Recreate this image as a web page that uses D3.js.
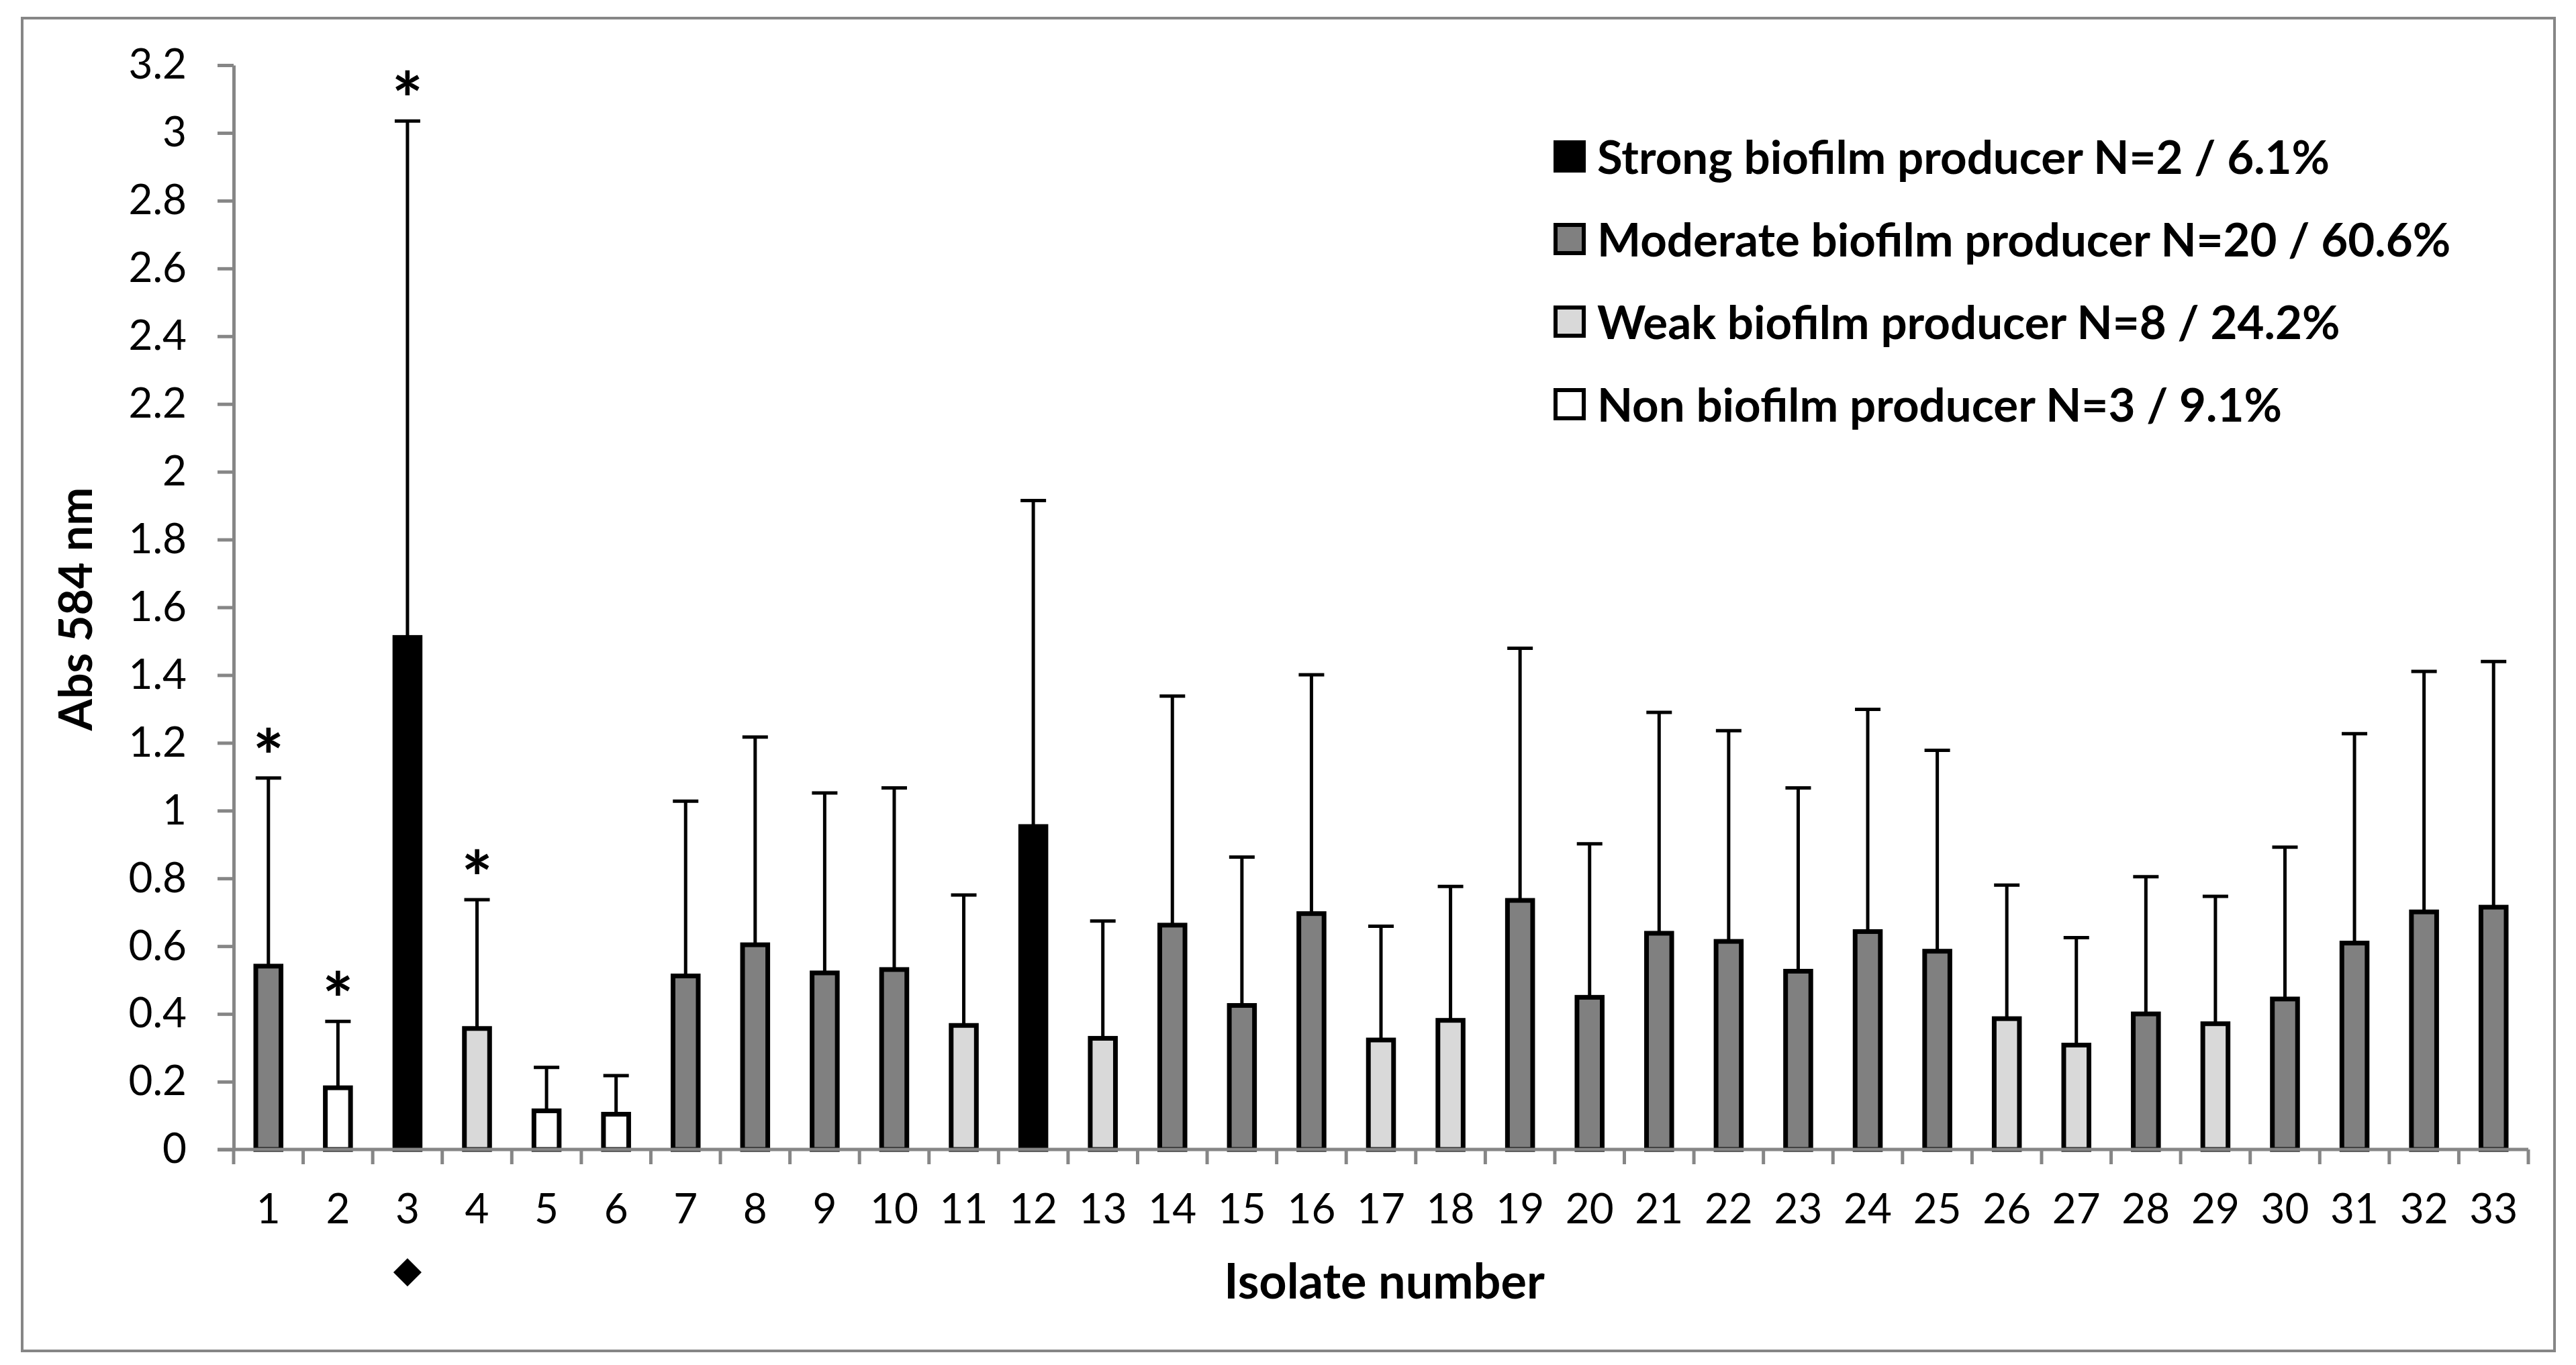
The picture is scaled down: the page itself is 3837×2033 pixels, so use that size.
<!DOCTYPE html>
<html>
<head>
<meta charset="utf-8">
<script src="https://cdn.jsdelivr.net/npm/d3@7"></script>
<style>
  body { margin: 0; background: #fff; }
  svg { display: block; }
  text { font-family: Lato, "Open Sans", sans-serif; }
</style>
</head>
<body>
<svg width="3837" height="2033"></svg>
<script>
    var isolates = ['1', '2', '3', '4', '5', '6', '7', '8', '9', '10', '11', '12', '13', '14', '15', '16', '17',
      '18', '19', '20', '21', '22', '23', '24', '25', '26', '27', '28', '29', '30', '31', '32', '33']

    // mean absorbance per isolate
    var means = [0.548, 0.189, 1.518, 0.364, 0.121, 0.111, 0.519, 0.611, 0.528, 0.538, 0.373, 0.960, 0.335,
      0.669, 0.432, 0.703, 0.330, 0.388, 0.742, 0.456, 0.645, 0.621, 0.533, 0.650, 0.592, 0.393, 0.315,
      0.407, 0.378, 0.451, 0.616, 0.708, 0.722]

    // standard deviation (upper error bar only)
    var sds = [0.548, 0.189, 1.517, 0.373, 0.121, 0.107, 0.509, 0.606, 0.524, 0.529, 0.378, 0.955, 0.339,
      0.669, 0.431, 0.698, 0.329, 0.388, 0.737, 0.446, 0.645, 0.615, 0.534, 0.649, 0.586, 0.387, 0.310,
      0.398, 0.369, 0.441, 0.611, 0.703, 0.718]

    // producer class per isolate
    var classes = ['moderate', 'non', 'strong', 'weak', 'non', 'non', 'moderate', 'moderate', 'moderate',
      'moderate', 'weak', 'strong', 'weak', 'moderate', 'moderate', 'moderate', 'weak', 'weak', 'moderate',
      'moderate', 'moderate', 'moderate', 'moderate', 'moderate', 'moderate', 'weak', 'weak', 'moderate',
      'weak', 'moderate', 'moderate', 'moderate', 'moderate']

    var starred = ['1', '2', '3', '4']
    var diamond = ['3']

    var yTicks = [0, 0.2, 0.4, 0.6, 0.8, 1, 1.2, 1.4, 1.6, 1.8, 2, 2.2, 2.4, 2.6, 2.8, 3, 3.2]

    var legendKeys = ['strong', 'moderate', 'weak', 'non']
    var legendLabels = ['Strong biofilm producer N=2 / 6.1%', 'Moderate biofilm producer N=20 / 60.6%',
      'Weak biofilm producer N=8 / 24.2%', 'Non biofilm producer N=3 / 9.1%']

    var fills = { strong: '#000000', moderate: '#808080', weak: '#d9d9d9', non: '#ffffff' }

    var data = isolates.map((d, i) => ({ id: d, mean: means[i], sd: sds[i], cls: classes[i] }))

    var width = 3837
    var height = 2033
    var margin = { top: 97, bottom: 321, left: 348, right: 71 }
    var axisGrey = '#868686'

    var svg = d3.select('svg')

    // outer chart frame
    svg.append('rect')
      .attr('x', 33).attr('y', 27)
      .attr('width', 3772).attr('height', 1985)
      .attr('fill', '#fff')
      .attr('stroke', axisGrey)
      .attr('stroke-width', 4)

    var xScale = d3.scaleBand()
      .domain(isolates)
      .range([margin.left, width - margin.right])

    var yScale = d3.scaleLinear()
      .domain([0, 3.2])
      .range([height - margin.bottom, margin.top])

    var barW = xScale.bandwidth() * 0.43
    var stroke = 7

    // bars
    svg.selectAll('rect.bar')
      .data(data)
      .enter().append('rect')
      .attr('class', 'bar')
      .attr('x', d => xScale(d.id) + (xScale.bandwidth() - barW) / 2 + stroke / 2)
      .attr('y', d => yScale(d.mean) + stroke / 2)
      .attr('width', barW - stroke)
      .attr('height', d => yScale(0) - yScale(d.mean) - stroke / 2)
      .attr('fill', d => fills[d.cls])
      .attr('stroke', '#000')
      .attr('stroke-width', stroke)

    // error bars (upper only)
    var cx = d => xScale(d.id) + xScale.bandwidth() / 2
    var err = svg.append('g').attr('stroke', '#000').attr('stroke-width', 5)
    err.selectAll('line.v')
      .data(data)
      .enter().append('line')
      .attr('x1', cx).attr('x2', cx)
      .attr('y1', d => yScale(d.mean) + stroke / 2)
      .attr('y2', d => yScale(d.mean + d.sd))
    err.selectAll('line.cap')
      .data(data)
      .enter().append('line')
      .attr('x1', d => cx(d) - 19).attr('x2', d => cx(d) + 19)
      .attr('y1', d => yScale(d.mean + d.sd))
      .attr('y2', d => yScale(d.mean + d.sd))

    // asterisks
    svg.selectAll('text.star')
      .data(data.filter(d => starred.includes(d.id)))
      .enter().append('text')
      .attr('x', cx)
      .attr('y', d => yScale(d.mean + d.sd) + 8)
      .attr('text-anchor', 'middle')
      .attr('font-family', 'DejaVu Sans')
      .attr('font-weight', 'bold')
      .attr('font-size', 110)
      .text('*')

    // y axis
    var yAxis = d3.axisLeft(yScale)
      .tickValues(yTicks)
      .tickFormat(d => String(+d.toFixed(1)))
      .tickSize(24)
      .tickSizeOuter(0)
      .tickPadding(46)
    var gy = svg.append('g')
      .attr('transform', 'translate(' + [margin.left, 0] + ')')
      .call(yAxis)
    gy.selectAll('path, line').attr('stroke', axisGrey).attr('stroke-width', 5)
    gy.selectAll('text').attr('font-size', 62).attr('fill', '#000').attr('font-family', 'Lato')

    // x axis: line + ticks at category boundaries
    var gx = svg.append('g')
    var base = yScale(0)
    gx.append('line')
      .attr('x1', margin.left - 24).attr('x2', width - margin.right)
      .attr('y1', base).attr('y2', base)
      .attr('stroke', axisGrey).attr('stroke-width', 5)
    gx.selectAll('line.tick')
      .data(isolates.concat(['end']))
      .enter().append('line')
      .attr('x1', d => d === 'end' ? width - margin.right : xScale(d))
      .attr('x2', d => d === 'end' ? width - margin.right : xScale(d))
      .attr('y1', base).attr('y2', base + 22)
      .attr('stroke', axisGrey).attr('stroke-width', 5)
    gx.selectAll('text')
      .data(isolates)
      .enter().append('text')
      .attr('x', d => xScale(d) + xScale.bandwidth() / 2)
      .attr('y', base + 110)
      .attr('text-anchor', 'middle')
      .attr('font-size', 62)
      .text(d => d)

    // diamond marker under isolate 3
    svg.selectAll('path.diamond')
      .data(diamond)
      .enter().append('path')
      .attr('d', 'M0,-21L21,0L0,21L-21,0Z')
      .attr('transform', d => 'translate(' + [xScale(d) + xScale.bandwidth() / 2, 1895] + ')')
      .attr('fill', '#000')

    // axis titles
    svg.append('text')
      .attr('transform', 'translate(137,907) rotate(-90)')
      .attr('text-anchor', 'middle')
      .attr('font-size', 68)
      .attr('font-weight', 'bold')
      .text('Abs 584 nm')

    svg.append('text')
      .attr('x', 2062).attr('y', 1934)
      .attr('text-anchor', 'middle')
      .attr('font-size', 72)
      .attr('font-weight', 'bold')
      .text('Isolate number')

    // legend
    var lg = svg.append('g')
    var rowY = [234, 357, 480, 603]
    legendKeys.forEach((k, i) => {
      lg.append('rect')
        .attr('x', 2317).attr('y', rowY[i] - 22)
        .attr('width', 42).attr('height', 42)
        .attr('fill', fills[k])
        .attr('stroke', '#000')
        .attr('stroke-width', 6)
      lg.append('text')
        .attr('x', 2379).attr('y', rowY[i] + 25)
        .attr('font-size', 69)
        .attr('font-weight', 'bold')
        .text(legendLabels[i])
    })
</script>
</body>
</html>
